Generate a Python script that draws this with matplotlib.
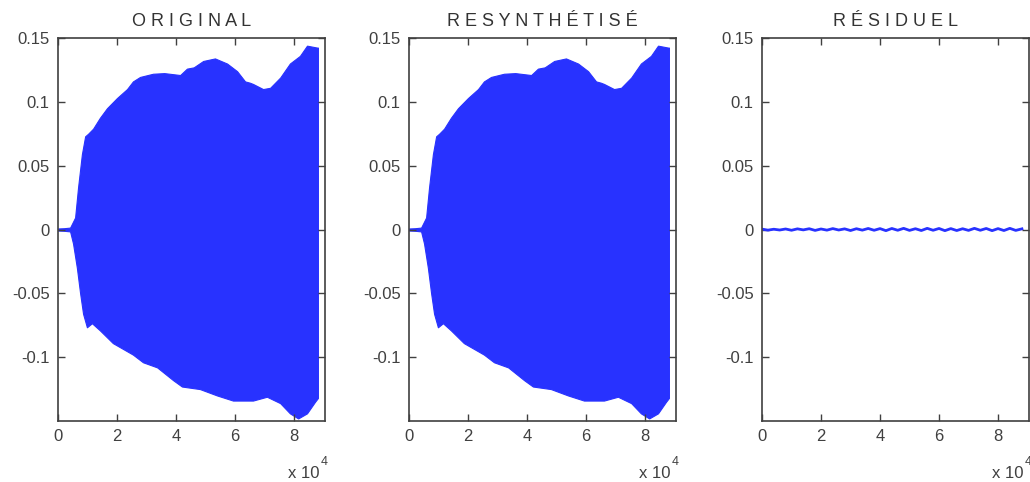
import matplotlib
matplotlib.use("Agg")
import matplotlib.pyplot as plt

plt.rcParams['font.family'] = ['Liberation Sans', 'DejaVu Sans']

# enveloppe supérieure du signal, x en échantillons
up_x = [0, 2000, 4100, 5800, 6800, 8100, 9200, 10200, 11900, 14200, 16600,
        20000, 23400, 25400, 27800, 32200, 36000, 41400, 43700, 46000, 49200, 53200, 57300,
        60700, 63400, 65000, 66100, 69500, 71900, 75300, 78600, 82000, 84400, 87800, 88100]
up_y = [0.0008, 0.001, 0.0015, 0.0094, 0.033, 0.059, 0.073, 0.075, 0.079, 0.0875, 0.095,
        0.103, 0.110, 0.116, 0.1195, 0.122, 0.1225, 0.121, 0.126, 0.127, 0.132, 0.134, 0.130,
        0.124, 0.116, 0.115, 0.114, 0.110, 0.111, 0.119, 0.130, 0.136, 0.144, 0.1425, 0.1425]

# enveloppe inférieure
lo_x = [0, 2000, 4100, 5100, 6400, 7500, 8500, 9800, 11500, 14200, 18600, 25400,
        28800, 33600, 39000, 42000, 48100, 53900, 59300, 66100, 70800, 75300,
        78600, 81400, 84400, 87100, 88100]
lo_y = [-0.0008, -0.001, -0.0015, -0.011, -0.03, -0.05, -0.066, -0.0766, -0.0734, -0.079,
        -0.089, -0.098, -0.104, -0.108, -0.118, -0.123, -0.125, -0.130, -0.134,
        -0.134, -0.131, -0.136, -0.144, -0.148, -0.144, -0.135, -0.132]

# résiduel (petites valeurs lues autour de zéro)
res_x = [0, 2000, 4000, 6000, 8000, 10000, 12000, 14000, 16000, 18000, 20000, 22000,
         24000, 26000, 28000, 30000, 32000, 34000, 36000, 38000, 40000, 42000, 44000,
         46000, 48000, 50000, 52000, 54000, 56000, 58000, 60000, 62000, 64000, 66000,
         68000, 70000, 72000, 74000, 76000, 78000, 80000, 82000, 84000, 86000, 88100]
res_y = [0.0003, -0.0005, 0.0002, -0.0004, 0.0004, -0.0006, 0.0005, -0.0003, 0.0006,
         -0.0007, 0.0004, -0.0005, 0.0007, -0.0004, 0.0005, -0.0008, 0.0006, -0.0005,
         0.0008, -0.0006, 0.0007, -0.0009, 0.0008, -0.0006, 0.0009, -0.0007, 0.0006,
         -0.0008, 0.0009, -0.0006, 0.0008, -0.0009, 0.0007, -0.0008, 0.0006, -0.0007,
         0.0009, -0.0006, 0.0008, -0.0009, 0.0007, -0.0008, 0.0009, -0.0007, 0.0005]

titles = ["O R I G I N A L", "R E S Y N T H É T I S É", "R É S I D U E L"]
xticks = [0, 20000, 40000, 60000, 80000]
xtick_labels = ["0", "2", "4", "6", "8"]
yticks = [-0.1, -0.05, 0, 0.05, 0.1, 0.15]
ytick_labels = ["-0.1", "-0.05", "0", "0.05", "0.1", "0.15"]

blue = '#2832FF'
axis_col = '#404040'

fig = plt.figure(figsize=(10.3, 4.82), dpi=100)
lefts = [58, 409, 762]
axes = [fig.add_axes([l / 1030, 61 / 482, 267 / 1030, 383 / 482]) for l in lefts]

for i, ax in enumerate(axes):
    if i < 2:
        ax.fill_between(up_x, up_y, 0, color=blue, lw=0.8, edgecolor=blue)
        ax.fill_between(lo_x, lo_y, 0, color=blue, lw=0.8, edgecolor=blue)
    else:
        ax.plot(res_x, res_y, color=blue, lw=2)
    ax.set_xlim(0, 90500)
    ax.set_ylim(-0.15, 0.15)
    ax.set_xticks(xticks)
    ax.set_xticklabels(xtick_labels)
    ax.set_yticks(yticks)
    ax.set_yticklabels(ytick_labels)
    ax.tick_params(direction='in', top=True, right=True, length=5, width=1,
                   colors=axis_col, labelsize=12, pad=6)
    for s in ax.spines.values():
        s.set_color(axis_col)
        s.set_linewidth(1.2)
    ax.set_title(titles[i], fontsize=13, color='#333333', pad=9)
    ax.text(0.98, -0.137, "x 10", transform=ax.transAxes, ha='right', va='center',
            fontsize=12, color=axis_col)
    ax.text(0.982, -0.108, "4", transform=ax.transAxes, ha='left', va='center',
            fontsize=9, color=axis_col)

fig.savefig("out.png", dpi=100)
